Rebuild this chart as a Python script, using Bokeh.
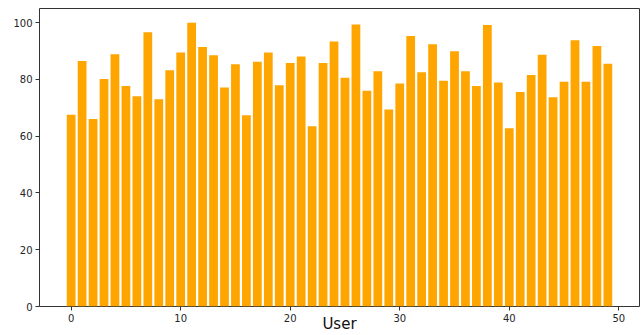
from bokeh.plotting import figure
from bokeh.models import Range1d, FixedTicker
from bokeh.embed import file_html
from bokeh.resources import INLINE

users = list(range(50))
values = [67.6, 86.5, 66.1, 80.2, 88.9, 77.7, 74.1, 96.6, 73.0, 83.2,
          89.5, 100.0, 91.4, 88.5, 77.2, 85.4, 67.4, 86.2, 89.5, 78.0,
          85.8, 88.1, 63.5, 85.8, 93.4, 80.6, 99.4, 76.0, 82.9, 69.4,
          78.6, 95.3, 82.5, 92.4, 79.5, 89.9, 82.9, 77.7, 99.2, 78.9,
          62.8, 75.6, 81.6, 88.7, 73.7, 79.2, 93.8, 79.2, 91.8, 85.5]
x_ticks = [0, 10, 20, 30, 40, 50]
y_ticks = [0, 20, 40, 60, 80, 100]
x_label = "User"

p = figure(width=641, height=335, output_backend="svg", toolbar_location=None,
           x_range=Range1d(-2.89, 51.89), y_range=Range1d(0, 105),
           min_border_left=39, min_border_right=2, min_border_top=8, min_border_bottom=29)

p.vbar(x=users, top=values, width=0.8, fill_color="#FFA500", line_color=None)

p.xgrid.visible = False
p.ygrid.visible = False
p.outline_line_color = "#333333"
p.outline_line_width = 1

for ax in (p.xaxis[0], p.yaxis[0]):
    ax.axis_line_color = None
    ax.major_tick_line_color = "#333333"
    ax.major_tick_in = 0
    ax.major_tick_out = 4
    ax.minor_tick_line_color = None
    ax.major_label_text_font = "DejaVu Sans"
    ax.major_label_text_font_size = "10px"
    ax.major_label_text_color = "#262626"
    ax.major_label_standoff = 3

p.xaxis.ticker = FixedTicker(ticks=x_ticks)
p.yaxis.ticker = FixedTicker(ticks=y_ticks)

p.xaxis.axis_label = x_label
p.xaxis.axis_label_text_font = "DejaVu Sans"
p.xaxis.axis_label_text_font_size = "15px"
p.xaxis.axis_label_text_font_style = "normal"
p.xaxis.axis_label_text_color = "#111111"
p.xaxis.axis_label_standoff = -10

open("out.html", "w").write(file_html(p, INLINE))
